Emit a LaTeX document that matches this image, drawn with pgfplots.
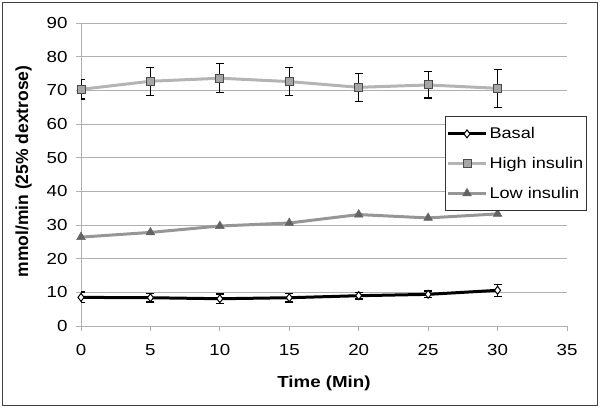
\documentclass[border=0pt]{standalone}
\usepackage{pgfplots}
\pgfplotsset{compat=1.18}
\usepackage{fontspec}
\setmainfont{Liberation Sans}
\newfontfamily\wide{Liberation Sans}[FakeStretch=1.17]
\definecolor{hiline}{HTML}{B4B4B4}
\definecolor{himark}{HTML}{A6A6A6}
\definecolor{loline}{HTML}{969696}
\definecolor{lomark}{HTML}{646464}
\definecolor{gridc}{HTML}{B0B0B0}
\begin{document}
\begin{tikzpicture}[x=1pt,y=1pt]
\useasboundingbox (0,0) rectangle (600,408);
\draw[line width=1.5pt, color=black!75] (2.5,2.5) rectangle (597.5,405.5);
\begin{axis}[
  at={(81pt,82pt)}, anchor=south west,
  scale only axis, width=486pt, height=303pt,
  xmin=0, xmax=35, ymin=0, ymax=90,
  xtick={0,5,...,35}, ytick={0,10,...,90},
  axis x line*=bottom, axis y line*=left,
  axis line style={gridc, line width=1pt},
  ymajorgrids, grid style={gridc, line width=1pt},
  tick align=outside, major tick length=5pt,
  tick style={gridc, line width=1pt},
  /pgf/number format/assume math mode=true,
  tick label style={font=\wide\fontsize{16}{16}\selectfont},
  xticklabel style={yshift=-10pt},
  yticklabel style={xshift=-5pt},
  xlabel={\wide\bfseries Time (Min)},
  ylabel={\bfseries mmol/min (25\% dextrose)},
  x label style={font=\fontsize{16}{16}\selectfont, at={(axis description cs:0.5,-0.19)}, anchor=center},
  y label style={font=\fontsize{17.5}{17.5}\selectfont, at={(axis description cs:-0.118,0.51)}, anchor=center},
  legend style={at={(0.749,0.693)}, anchor=north west, draw=black!80, line width=1pt,
    font=\wide\fontsize{15.5}{18}\selectfont, row sep=13pt, inner xsep=1pt, inner ysep=9pt},
  legend cell align=left,
  legend image code/.code={\draw[mark repeat=2,mark phase=2] plot coordinates {(0pt,0pt)(19pt,0pt)(38pt,0pt)};},
  error bars/error bar style={black, line width=1.2pt},
  error bars/error mark options={black, line width=1.2pt, rotate=90, mark size=4pt},
]
\addplot[black, line width=3pt, mark=diamond*, mark size=4pt,
  mark options={fill=white, draw=black, line width=1pt},
  error bars/.cd, y dir=both, y explicit]
coordinates {
(0,8.5) +- (0,1.6)
(5,8.4) +- (0,1.3)
(10,8.1) +- (0,1.4)
(15,8.4) +- (0,1.3)
(20,9.0) +- (0,1.0)
(25,9.4) +- (0,1.0)
(30,10.6) +- (0,1.8)
};
\addlegendentry{Basal}
\addplot[hiline, line width=3pt, mark=square*, mark size=4pt,
  mark options={fill=himark, draw=black!70, line width=1pt},
  error bars/.cd, y dir=both, y explicit]
coordinates {
(0,70.3) += (0,2.9) -= (0,2.9)
(5,72.7) += (0,4.2) -= (0,4.3)
(10,73.6) += (0,4.3) -= (0,4.2)
(15,72.6) += (0,4.2) -= (0,4.2)
(20,70.9) += (0,4.0) -= (0,4.2)
(25,71.6) += (0,3.9) -= (0,3.9)
(30,70.6) += (0,5.5) -= (0,5.7)
};
\addlegendentry{High insulin}
\addplot[loline, line width=3pt, mark=triangle*, mark size=5pt,
  mark options={fill=lomark, draw=lomark, line width=0.5pt}]
coordinates {
(0,26.4) (5,27.8) (10,29.7) (15,30.6) (20,33.1) (25,32.1) (30,33.3)
};
\addlegendentry{Low insulin}
\end{axis}
\end{tikzpicture}
\end{document}
